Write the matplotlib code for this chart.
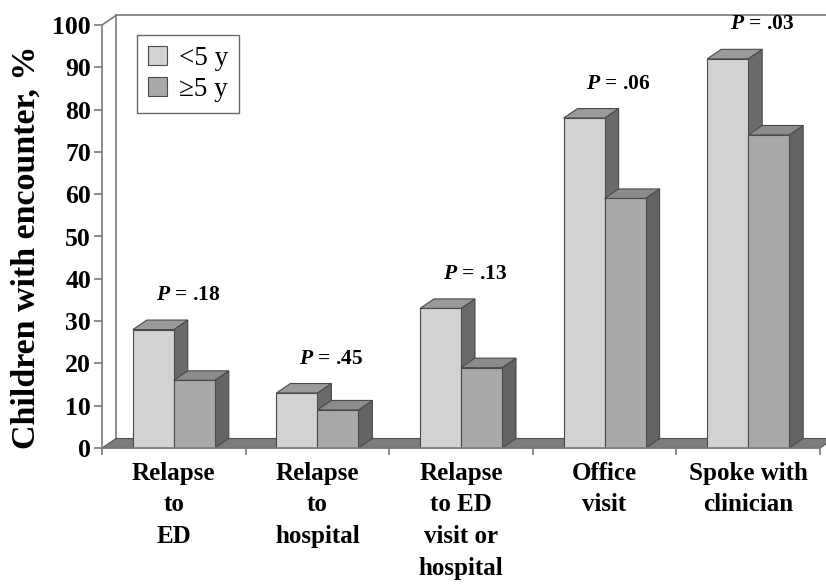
import matplotlib
matplotlib.use("Agg")
import matplotlib.pyplot as plt
from matplotlib.patches import Polygon, Patch
import numpy as np

# ---- data ----
categories = ["Relapse\nto\nED", "Relapse\nto\nhospital", "Relapse\nto ED\nvisit or\nhospital",
              "Office\nvisit", "Spoke with\nclinician"]
under5 = [28, 13, 33, 78, 92]
over5 = [16, 9, 19, 59, 74]
p_labels = [".18", ".45", ".13", ".06", ".03"]
series_names = ["<5 y", "\u22655 y"]
yticks = [0, 10, 20, 30, 40, 50, 60, 70, 80, 90, 100]

plt.rcParams["font.family"] = ["Liberation Serif", "DejaVu Serif"]
plt.rcParams["mathtext.fontset"] = "custom"
plt.rcParams["mathtext.it"] = "Liberation Serif:italic:bold"
plt.rcParams["mathtext.rm"] = "Liberation Serif:bold"

W, H = 826, 585
fig = plt.figure(figsize=(W / 100, H / 100), dpi=100)
ax = fig.add_axes([102 / W, 137 / H, (820 - 102) / W, 423 / H])
ax.set_xlim(-0.5, 4.5)
ax.set_ylim(0, 100)

# depth offsets (data units)
DX = 14 / 143.6
DY = 9.5 / 4.23
bw = 41 / 143.6

front_cols = ["#d2d2d2", "#a9a9a9"]
top_cols = ["#9a9a9a", "#8c8c8c"]
side_cols = ["#6b6b6b", "#646464"]
edge = "#4a4a4a"
axis_col = "#7a7a7a"

# floor
floor = Polygon([(-0.5, 0), (4.5, 0), (4.5 + DX, DY), (-0.5 + DX, DY)], closed=True,
                facecolor="#7c7c7c", edgecolor="#555555", lw=0.8, zorder=1, clip_on=False)
ax.add_patch(floor)

# back wall lines
ax.plot([-0.5 + DX, -0.5 + DX], [DY, 100 + DY], color=axis_col, lw=1.2, zorder=0.5, clip_on=False)
ax.plot([-0.5 + DX, 4.6 + DX], [100 + DY, 100 + DY], color=axis_col, lw=1.2, zorder=0.5, clip_on=False)
ax.plot([-0.5, -0.5 + DX], [100, 100 + DY], color=axis_col, lw=1.2, zorder=0.5, clip_on=False)

x = np.arange(len(categories))
zbase = 2
for i in range(len(categories)):
    for j, vals in enumerate([under5, over5]):
        v = vals[i]
        x0 = x[i] - bw + j * bw
        z = zbase + i * 4 + j * 2
        # side face
        ax.add_patch(Polygon([(x0 + bw, 0), (x0 + bw + DX, DY), (x0 + bw + DX, v + DY), (x0 + bw, v)],
                             closed=True, facecolor=side_cols[j], edgecolor=edge, lw=0.8, zorder=z, clip_on=False))
        # top face
        ax.add_patch(Polygon([(x0, v), (x0 + bw, v), (x0 + bw + DX, v + DY), (x0 + DX, v + DY)],
                             closed=True, facecolor=top_cols[j], edgecolor=edge, lw=0.8, zorder=z, clip_on=False))
        # front face
        ax.bar(x0, v, width=bw, align="edge", color=front_cols[j], edgecolor=edge, lw=0.8, zorder=z + 1)

# p-value labels
for i in range(len(categories)):
    top = max(under5[i], over5[i])
    ax.annotate(r"$P$ = " + p_labels[i], xy=(x[i], top + DY), xytext=(14, 25),
                textcoords="offset pixels", ha="center", va="center",
                fontsize=15.5, fontweight="bold", zorder=50, annotation_clip=False)

# axes styling
for s in ["top", "right"]:
    ax.spines[s].set_visible(False)
ax.spines["left"].set_color(axis_col)
ax.spines["bottom"].set_color(axis_col)
ax.spines["left"].set_linewidth(1.2)
ax.spines["bottom"].set_linewidth(1.2)
ax.spines["bottom"].set_zorder(40)

ax.set_yticks(yticks)
ax.set_yticklabels([str(t) for t in yticks], fontsize=18.5, fontweight="bold")
ax.tick_params(axis="y", length=6, width=1.2, color=axis_col, pad=2)

ax.set_xticks(np.arange(-0.5, 5.0, 1.0))
ax.set_xticklabels([])
ax.tick_params(axis="x", length=5, width=1.2, color=axis_col, direction="out")
for i, c in enumerate(categories):
    ax.text(x[i], -3.2, c, ha="center", va="top", fontsize=18, fontweight="bold",
            linespacing=1.49, transform=ax.transData)

fig.text(26 / W, 1 - 247 / H, "Children with encounter, %", rotation=90, ha="center", va="center",
         fontsize=24.5, fontweight="bold")

handles = [Patch(facecolor=front_cols[k], edgecolor=edge, lw=0.8) for k in range(2)]
leg = ax.legend(handles, series_names, loc="upper left", bbox_to_anchor=(137 / W, 1 - 35 / H),
                bbox_transform=fig.transFigure, borderaxespad=0, fancybox=False, frameon=True,
                prop={"family": "Liberation Serif", "size": 19.5}, handlelength=0.7, handleheight=0.7,
                handletextpad=0.45, labelspacing=0.22, borderpad=0.4)
leg.get_frame().set_edgecolor("#444444")
leg.get_frame().set_linewidth(1.0)
leg.set_zorder(60)

fig.savefig("out.png", dpi=100)
